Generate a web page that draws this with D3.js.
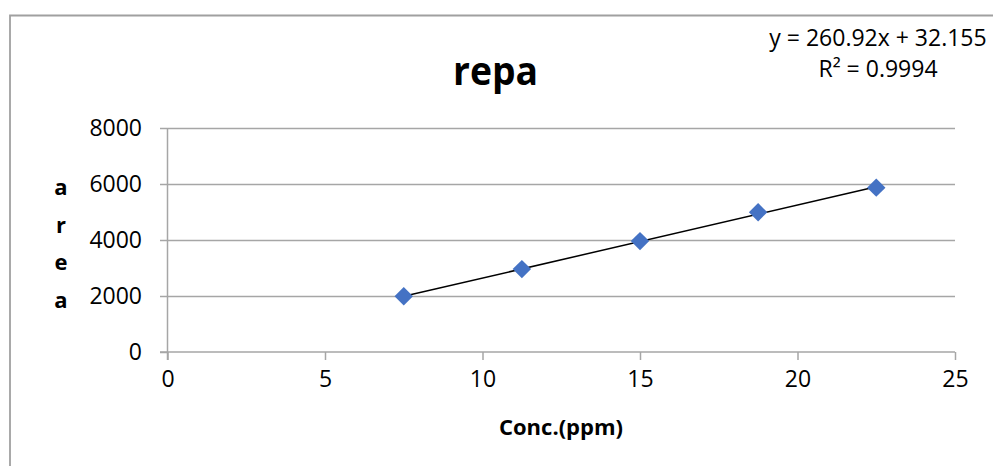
<!DOCTYPE html>
<html>
<head>
<meta charset="utf-8">
<script src="https://cdn.jsdelivr.net/npm/d3@7"></script>
<style>
  body { margin: 0; background: #fff; }
  svg text { font-family: "Open Sans", "Noto Sans", sans-serif; fill: #000; }
  .axis path, .axis line { stroke: #a6a6a6; stroke-width: 1.5; }
  .grid line { stroke: #a6a6a6; stroke-width: 1.5; }
  .grid path { display: none; }
</style>
</head>
<body>
<svg id="chart"></svg>
<script>
// data
const conc = [7.5, 11.25, 15, 18.75, 22.5];
const area = [1990, 2960, 3960, 4990, 5870];
const xTicks = [0, 5, 10, 15, 20, 25];
const yTicks = [0, 2000, 4000, 6000, 8000];
const slope = 260.92, intercept = 32.155;
const eqLines = ['y = 260.92x + 32.155', 'R² = 0.9994'];

const config = {
  width: 993, height: 466,
  left: 167.5, right: 955, top: 128, bottom: 352
};

const svg = d3.select('#chart')
  .attr('width', config.width)
  .attr('height', config.height);

// chart frame (only top and left edges are visible)
svg.append('path')
  .attr('d', `M10,${config.height} V15.5 H${config.width}`)
  .attr('fill', 'none')
  .attr('stroke', '#a0a0a0')
  .attr('stroke-width', 1.8);

// scales
const x = d3.scaleLinear().domain([0, 25]).range([config.left, config.right]);
const y = d3.scaleLinear().domain([0, 8000]).range([config.bottom, config.top]);

// gridlines
svg.append('g')
  .attr('class', 'grid')
  .attr('transform', `translate(${config.left},0)`)
  .call(d3.axisLeft(y).tickValues(yTicks.filter(d => d > 0)).tickSize(-(config.right - config.left)).tickFormat(''));

// y axis
const yAxis = svg.append('g')
  .attr('class', 'axis')
  .attr('transform', `translate(${config.left},0)`)
  .call(d3.axisLeft(y).tickValues(yTicks).tickFormat(d3.format('d'))
    .tickSizeInner(7.5).tickSizeOuter(0).tickPadding(18));
yAxis.selectAll('text').style('font-size', '23px');
yAxis.select('.domain').attr('d', `M0,${config.top}V${config.bottom + 8}`);

// x axis
const xAxis = svg.append('g')
  .attr('class', 'axis')
  .attr('transform', `translate(0,${config.bottom})`)
  .call(d3.axisBottom(x).tickValues(xTicks).tickSizeInner(8).tickSizeOuter(0).tickPadding(11));
xAxis.selectAll('text').style('font-size', '23px');
xAxis.select('.domain').attr('d', `M${config.left - 7.5},0H${config.right}`);

// linear trendline from the fitted equation
const fit = d => slope * d + intercept;
const xr = d3.extent(conc);
svg.append('line')
  .attr('x1', x(xr[0])).attr('y1', y(fit(xr[0])))
  .attr('x2', x(xr[1])).attr('y2', y(fit(xr[1])))
  .attr('stroke', '#000')
  .attr('stroke-width', 1.5);

// diamond markers
const diamond = d3.symbol().type(d3.symbolSquare).size(170);
svg.selectAll('.point')
  .data(conc.map((c, i) => ({c, a: area[i]})))
  .join('path')
  .attr('class', 'point')
  .attr('d', diamond)
  .attr('fill', '#4472c4')
  .attr('transform', d => `translate(${x(d.c)},${y(d.a)}) rotate(45)`);

// title
svg.append('text')
  .attr('x', 495.5).attr('y', 85)
  .attr('text-anchor', 'middle')
  .attr('textLength', 85).attr('lengthAdjust', 'spacingAndGlyphs')
  .style('font-size', '40px').style('font-weight', 'bold')
  .text('repa');

// trendline equation
svg.selectAll('.eq')
  .data(eqLines)
  .join('text')
  .attr('class', 'eq')
  .attr('x', 878)
  .attr('y', (d, i) => 46 + i * 31)
  .attr('text-anchor', 'middle')
  .style('font-size', '23px')
  .text(d => d);

// x title
svg.append('text')
  .attr('x', 561).attr('y', 435)
  .attr('text-anchor', 'middle')
  .style('font-size', '22px').style('font-weight', 'bold')
  .text('Conc.(ppm)');

// y title, stacked letters
svg.selectAll('.ytitle')
  .data('area'.split(''))
  .join('text')
  .attr('class', 'ytitle')
  .attr('x', 61)
  .attr('y', (d, i) => 195 + i * 37.7)
  .attr('text-anchor', 'middle')
  .style('font-size', '22px').style('font-weight', 'bold')
  .text(d => d);
</script>
</body>
</html>
